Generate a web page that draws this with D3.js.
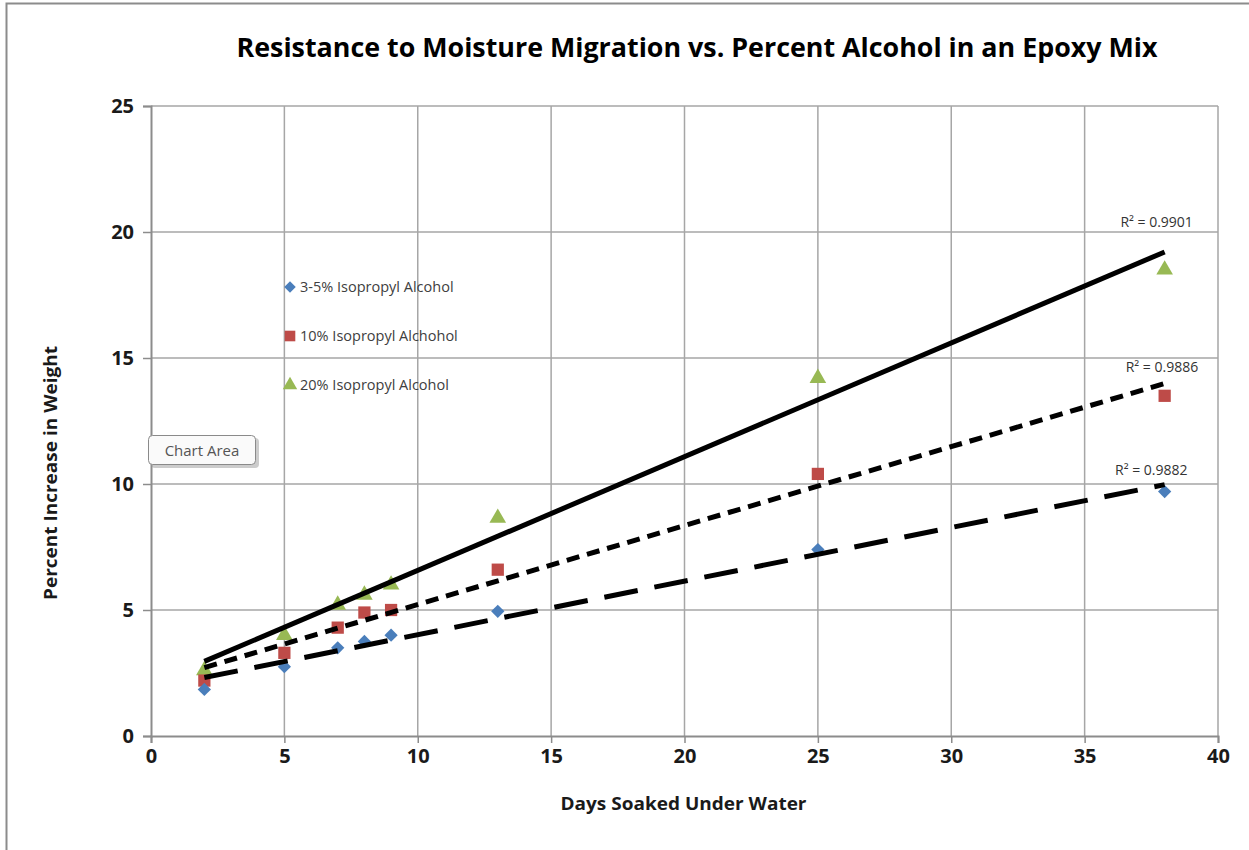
<!DOCTYPE html>
<html>
<head>
<meta charset="utf-8">
<script src="https://cdn.jsdelivr.net/npm/d3@7"></script>
<style>
  body { margin: 0; background: #fff; }
  svg { display: block; }
</style>
</head>
<body>
<div id="chart"></div>
<script>
// days soaked (x values shared by all series)
var days = [2, 5, 7, 8, 9, 13, 25, 38];

// percent increase in weight
var iso35 = [1.85, 2.75, 3.5, 3.75, 4.0, 4.95, 7.4, 9.7];
var iso10 = [2.2, 3.3, 4.3, 4.9, 5.0, 6.6, 10.4, 13.5];
var iso20 = [2.6, 4.0, 5.2, 5.6, 6.0, 8.65, 14.2, 18.5];

var seriesNames = ["3-5% Isopropyl Alcohol", "10% Isopropyl Alchohol", "20% Isopropyl Alcohol"];
var rSquared = ["R² = 0.9882", "R² = 0.9886", "R² = 0.9901"];

var xTicks = [0, 5, 10, 15, 20, 25, 30, 35, 40];
var yTicks = [0, 5, 10, 15, 20, 25];

var W = 1249, H = 850;
var margin = { top: 106, right: 31, bottom: 114, left: 151 };
var width = W - margin.left - margin.right,
    height = H - margin.top - margin.bottom;

var svg = d3.select("#chart").append("svg")
    .attr("width", W)
    .attr("height", H);

// outer chart border
svg.append("rect")
    .attr("x", 6.5).attr("y", 3.5)
    .attr("width", W + 10).attr("height", H + 10)
    .attr("fill", "none")
    .attr("stroke", "#8c8c8c")
    .attr("stroke-width", 2);

var g = svg.append("g")
    .attr("transform", "translate(" + margin.left + "," + margin.top + ")");

var x = d3.scaleLinear().domain([0, 40]).range([0, width]);
var y = d3.scaleLinear().domain([0, 25]).range([height, 0]);

// grid lines
g.selectAll(".vgrid")
    .data(xTicks.slice(1))
    .enter().append("line")
    .attr("x1", function(d) { return x(d) }).attr("x2", function(d) { return x(d) })
    .attr("y1", 0).attr("y2", height)
    .attr("stroke", "#a6a6a6").attr("stroke-width", 1.5);

g.selectAll(".hgrid")
    .data(yTicks.slice(1))
    .enter().append("line")
    .attr("x1", 0).attr("x2", width)
    .attr("y1", function(d) { return y(d) }).attr("y2", function(d) { return y(d) })
    .attr("stroke", "#a6a6a6").attr("stroke-width", 1.5);

// axes
var xAxis = g.append("g")
    .attr("transform", "translate(0," + height + ")")
    .call(d3.axisBottom(x).tickValues(xTicks).tickSize(7).tickPadding(3));
var yAxis = g.append("g")
    .call(d3.axisLeft(y).tickValues(yTicks).tickSize(8).tickPadding(9));

[xAxis, yAxis].forEach(function(a) {
    a.select(".domain").attr("stroke", "#8c8c8c").attr("stroke-width", 2);
    a.selectAll(".tick line").attr("stroke", "#8c8c8c").attr("stroke-width", 1.5);
    a.selectAll("text")
        .attr("fill", "#1a1a1a")
        .style("font-family", "'Open Sans', sans-serif")
        .style("font-weight", "bold")
        .style("font-size", "20px");
});
xAxis.selectAll("text").attr("dy", "0.85em");

var allSeries = [iso35, iso10, iso20];

// markers (diamond = square turned 45 degrees)
var colors = ["#4a7ebb", "#be4b48", "#98b954"];
var symbols = [d3.symbolSquare, d3.symbolSquare, d3.symbolTriangle];
var sizes = [88, 150, 120];
var turn = [45, 0, 0];

[2, 1, 0].forEach(function(i) {
    g.selectAll(".pt" + i)
        .data(allSeries[i])
        .enter().append("path")
        .attr("d", d3.symbol().type(symbols[i]).size(sizes[i]))
        .attr("transform", function(d, j) {
            return "translate(" + x(days[j]) + "," + y(d) + ") rotate(" + turn[i] + ")"
        })
        .attr("fill", colors[i]);
});

// trend lines (least squares fit of each series), drawn over the markers
function fit(ys) {
    var mx = d3.mean(days), my = d3.mean(ys);
    var num = d3.sum(days, function(d, i) { return (d - mx) * (ys[i] - my) });
    var den = d3.sum(days, function(d) { return (d - mx) * (d - mx) });
    var b = num / den;
    return { b: b, a: my - b * mx };
}

var dashes = ["34,17", "13,8", null];
var x0 = d3.min(days), x1 = d3.max(days);

allSeries.forEach(function(ys, i) {
    var f = fit(ys);
    g.append("line")
        .attr("x1", x(x0)).attr("y1", y(f.a + f.b * x0))
        .attr("x2", x(x1)).attr("y2", y(f.a + f.b * x1))
        .attr("stroke", "#000")
        .attr("stroke-width", 5)
        .attr("stroke-dasharray", dashes[i]);
});

// R² labels
var r2Pos = [[37.5, 10.35], [37.9, 14.45], [37.7, 20.2]];
rSquared.forEach(function(t, i) {
    g.append("text")
        .attr("x", x(r2Pos[i][0])).attr("y", y(r2Pos[i][1]))
        .attr("text-anchor", "middle")
        .style("font-family", "'Open Sans', sans-serif")
        .style("font-size", "14px")
        .attr("fill", "#333")
        .text(t);
});

// legend
var legend = svg.append("g").attr("transform", "translate(290,287)");
seriesNames.forEach(function(n, i) {
    var row = legend.append("g").attr("transform", "translate(0," + (i * 49) + ")");
    row.append("path")
        .attr("d", d3.symbol().type(symbols[i]).size(sizes[i] * 0.75))
        .attr("transform", "rotate(" + turn[i] + ")")
        .attr("fill", colors[i]);
    row.append("text")
        .attr("x", 10).attr("y", 5)
        .style("font-family", "'Open Sans', sans-serif")
        .style("font-size", "14.5px")
        .attr("fill", "#404040")
        .text(n);
});

// title
svg.append("text")
    .attr("x", 697).attr("y", 57)
    .attr("text-anchor", "middle")
    .attr("textLength", 921)
    .attr("lengthAdjust", "spacingAndGlyphs")
    .style("font-family", "'Open Sans', sans-serif")
    .style("font-weight", "bold")
    .style("font-size", "27px")
    .attr("fill", "#000")
    .text("Resistance to Moisture Migration vs. Percent Alcohol in an Epoxy Mix");

// axis titles
svg.append("text")
    .attr("x", margin.left + width / 2 - 1).attr("y", 810)
    .attr("text-anchor", "middle")
    .attr("textLength", 246)
    .attr("lengthAdjust", "spacingAndGlyphs")
    .style("font-family", "'Open Sans', sans-serif")
    .style("font-weight", "bold")
    .style("font-size", "17px")
    .attr("fill", "#1a1a1a")
    .text("Days Soaked Under Water");

svg.append("text")
    .attr("transform", "translate(57,473) rotate(-90)")
    .attr("text-anchor", "middle")
    .attr("textLength", 254)
    .attr("lengthAdjust", "spacingAndGlyphs")
    .style("font-family", "'Open Sans', sans-serif")
    .style("font-weight", "bold")
    .style("font-size", "17px")
    .attr("fill", "#1a1a1a")
    .text("Percent Increase in Weight");

// "Chart Area" tooltip box
var tip = svg.append("g").attr("transform", "translate(148,435)");
tip.append("rect")
    .attr("x", 3).attr("y", 3).attr("width", 108).attr("height", 30).attr("rx", 4)
    .attr("fill", "#9a9a9a").attr("opacity", 0.5);
tip.append("rect")
    .attr("x", 0.5).attr("y", 0.5).attr("width", 107).attr("height", 29).attr("rx", 4)
    .attr("fill", "#fafafa").attr("stroke", "#8a8a8a");
tip.append("text")
    .attr("x", 54).attr("y", 20.5)
    .attr("text-anchor", "middle")
    .style("font-family", "'Open Sans', sans-serif")
    .style("font-size", "15px")
    .attr("fill", "#555")
    .text("Chart Area");
</script>
</body>
</html>
